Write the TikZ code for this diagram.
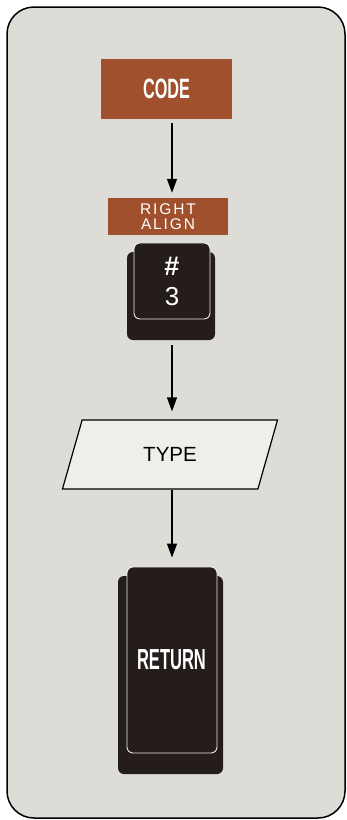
\documentclass[tikz,border=0pt]{standalone}
\usepackage{fontspec}
\usepackage{graphicx}
\setmainfont{Liberation Sans}
\usetikzlibrary{arrows.meta,shapes.geometric}
\definecolor{panel}{RGB}{222,220,215}
\definecolor{rust}{RGB}{160,80,44}
\definecolor{keyblk}{RGB}{36,29,27}
\definecolor{paper}{RGB}{240,238,235}
\definecolor{capline}{RGB}{236,234,230}
\begin{document}
\begin{tikzpicture}[x=1pt,y=-1pt,
  rustbox/.style={fill=rust, draw=none, inner sep=0pt, text=white},
  keyback/.style={fill=keyblk, draw=none, rounded corners=6pt, inner sep=0pt},
  keycap/.style={fill=keyblk, draw=capline, line width=0.9pt, rounded corners=6pt, inner sep=0pt},
  lbl/.style={text=white, inner sep=0pt},
  arr/.style={line width=1.3pt, -{Triangle[length=14pt,width=10pt]}},
  paral/.style={shape=trapezium, trapezium left angle=67, trapezium right angle=113,
    trapezium stretches=true, minimum width=216pt, minimum height=69pt,
    fill=paper, draw=black, line width=1.2pt, inner sep=0pt}
]
\useasboundingbox (0,0) rectangle (346,820);
\draw[fill=panel, line width=1.5pt, rounded corners=27pt] (7,7) rectangle (345,818);

% CODE
\node[rustbox, minimum width=131pt, minimum height=60pt] (code) at (166.5,89)
  {\fontsize{28}{28}\selectfont\bfseries\scalebox{0.58}[1]{CODE}};

% RIGHT ALIGN
\node[rustbox, minimum width=120pt, minimum height=37pt, align=center,
  font={\fontsize{15.5}{15}\selectfont\addfontfeatures{LetterSpace=12}}] (ra) at (168,216.5)
  {RIGHT\\ALIGN};

% key #3
\node[keyback, minimum width=88pt, minimum height=88pt] (key3) at (171,296) {};
\node[keycap, minimum width=76pt, minimum height=76pt] (cap3) at (172,281) {};
\node[lbl] (hash) at (172,266) {\fontsize{27}{27}\selectfont\bfseries\#};
\node[lbl] (three) at (172,297) {\fontsize{26}{26}\selectfont 3};

% TYPE
\node[paral] (type) at (170,454.5) {\fontsize{20.5}{20.5}\selectfont TYPE};

% RETURN key
\node[keyback, minimum width=105pt, minimum height=198pt] (retback) at (170.5,675) {};
\node[keycap, minimum width=90pt, minimum height=186pt] (retcap) at (172,660) {};
\node[lbl] (ret) at (171.5,660) {\fontsize{29}{29}\selectfont\bfseries\scalebox{0.57}[1]{RETURN}};

% connectors
\draw[arr, shorten <=4pt, shorten >=5pt] (code.south -| cap3.center) -- (ra.north -| cap3.center);
\draw[arr, shorten <=5pt, shorten >=8pt] (key3.south -| cap3.center) -- (type.north -| cap3.center);
\draw[arr, shorten >=9pt] (type.south -| retcap.center) -- (retcap.north);
\end{tikzpicture}
\end{document}
